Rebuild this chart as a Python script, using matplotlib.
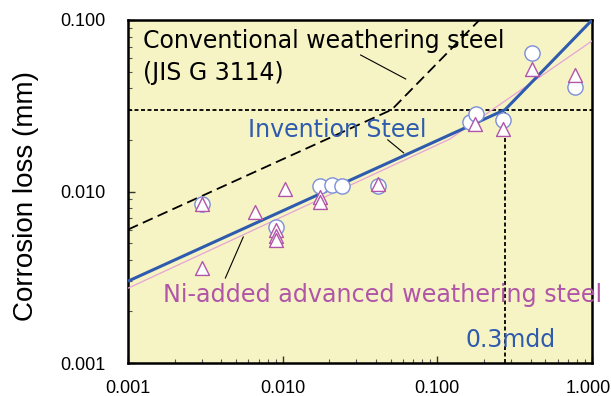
import matplotlib
matplotlib.use("Agg")
import matplotlib.pyplot as plt
from matplotlib.ticker import FixedLocator, LogLocator, NullFormatter
from matplotlib.transforms import ScaledTranslation

# ---- data ----
inv_x = [0.001, 0.274, 1.0]
inv_y = [0.003, 0.030, 0.100]

ni_x = [0.001, 0.12, 1.0]
ni_y = [0.00273, 0.0202, 0.0755]

conv_x = [0.001, 0.0507, 0.187]
conv_y = [0.006, 0.030, 0.100]

circ_x = [0.003, 0.0091, 0.0174, 0.0209, 0.0243, 0.0413, 0.163, 0.177, 0.264, 0.407, 0.77]
circ_y = [0.0085, 0.0062, 0.0108, 0.0109, 0.0107, 0.0107, 0.0255, 0.0283, 0.0261, 0.064, 0.0406]

tri_x = [0.003, 0.003, 0.00665, 0.0103, 0.0091, 0.0091, 0.0091, 0.0174, 0.0174, 0.0413,
         0.175, 0.264, 0.407, 0.77]
tri_y = [0.0084, 0.0036, 0.0076, 0.0104, 0.0060, 0.0055, 0.0052, 0.0093, 0.0087, 0.0111,
         0.0248, 0.0231, 0.052, 0.0478]

threshold_x = 0.274
threshold_y = 0.03

xticks = [0.001, 0.01, 0.1, 1.0]
xticklabels = ["0.001", "0.010", "0.100", "1.000"]
yticks = [0.001, 0.01, 0.1]
yticklabels = ["0.001", "0.010", "0.100"]

# ---- figure ----
fig = plt.figure(figsize=(6.11, 3.96), dpi=100)
ax = fig.add_axes([0.2095, 0.0833, 0.9690 - 0.2095, 0.9495 - 0.0833])
ax.set_facecolor("#F6F4C4")
ax.set_xscale("log")
ax.set_yscale("log")
ax.set_xlim(0.001, 1.0)
ax.set_ylim(0.001, 0.1)

BLUE = "#2F5BAE"
PINK = "#E6A3D6"
MAG = "#B055A8"
CIRC_EDGE = "#7B8FD6"

# reference lines
ax.plot([0.001, 1.0], [threshold_y, threshold_y], color="black", lw=1.3,
        linestyle=(0, (2.2, 1.4)), zorder=2)
ax.plot([threshold_x, threshold_x], [0.001, threshold_y], color="black", lw=1.3,
        linestyle=(0, (2.2, 1.4)), zorder=2)

# trend lines
ax.plot(conv_x, conv_y, color="black", lw=1.3, linestyle=(0, (6, 3)), zorder=3)
ax.plot(ni_x, ni_y, color=PINK, lw=0.9, zorder=3)
ax.plot(inv_x, inv_y, color=BLUE, lw=2.2, zorder=4, solid_capstyle="butt")

# markers
ax.scatter(circ_x, circ_y, s=120, marker="o", facecolor="white",
           edgecolor=CIRC_EDGE, linewidth=1.0, zorder=5)
ax.scatter(tri_x, tri_y, s=100, marker="^", facecolor="white",
           edgecolor=MAG, linewidth=1.0, zorder=6)

# annotations / leader lines
ax.plot([0.0319, 0.0624], [0.0625, 0.0453], color="black", lw=0.8, zorder=3)
ax.plot([0.0478, 0.0605], [0.0200, 0.0168], color="black", lw=0.8, zorder=3)
ax.plot([0.00426, 0.00556], [0.00313, 0.00543], color="black", lw=0.8, zorder=3)

tf = "DejaVu Sans"
ax.text(0.00125, 0.0687, "Conventional weathering steel", fontsize=17, family=tf,
        color="black", va="baseline", ha="left", zorder=7)
ax.text(0.00125, 0.0447, "(JIS G 3114)", fontsize=17, family=tf,
        color="black", va="baseline", ha="left", zorder=7)
ax.text(0.0060, 0.0208, "Invention Steel", fontsize=17, family=tf,
        color=BLUE, va="baseline", ha="left", zorder=7)
ax.text(0.00169, 0.00227, "Ni-added advanced weathering steel", fontsize=17.2, family=tf,
        color=MAG, va="baseline", ha="left", zorder=7, clip_on=False)
ax.text(0.153, 0.00124, "0.3mdd", fontsize=17, family=tf,
        color=BLUE, va="baseline", ha="left", zorder=7)

# ticks
ax.xaxis.set_major_locator(FixedLocator(xticks))
ax.yaxis.set_major_locator(FixedLocator(yticks))
ax.set_xticklabels(xticklabels, family="Liberation Sans", fontsize=13)
ax.set_yticklabels(yticklabels, family="Liberation Sans", fontsize=13)
ax.xaxis.set_minor_locator(LogLocator(base=10, subs=range(2, 10)))
ax.yaxis.set_minor_locator(LogLocator(base=10, subs=range(2, 10)))
ax.xaxis.set_minor_formatter(NullFormatter())
ax.yaxis.set_minor_formatter(NullFormatter())
ax.tick_params(axis="both", which="major", direction="in", length=5, width=1.0,
               color="#333333")
ax.tick_params(axis="both", which="minor", direction="in", length=3, width=0.8,
               color="#555555")
ax.tick_params(axis="y", which="major", pad=16)
ax.tick_params(axis="x", which="major", pad=12)

# keep the last x label inside the canvas, as in the reference
last = ax.get_xticklabels()[-1]
last.set_transform(last.get_transform() + ScaledTranslation(-4 / 100, 0, fig.dpi_scale_trans))

for sp in ax.spines.values():
    sp.set_linewidth(1.8)
    sp.set_color("black")

# y-axis title placed in figure pixels
fig.text(26 / 611, 1 - 196 / 396, "Corrosion loss (mm)", family="Liberation Sans",
         fontsize=20, rotation=90, ha="center", va="center")

fig.savefig("out.png", dpi=100, facecolor="white")
